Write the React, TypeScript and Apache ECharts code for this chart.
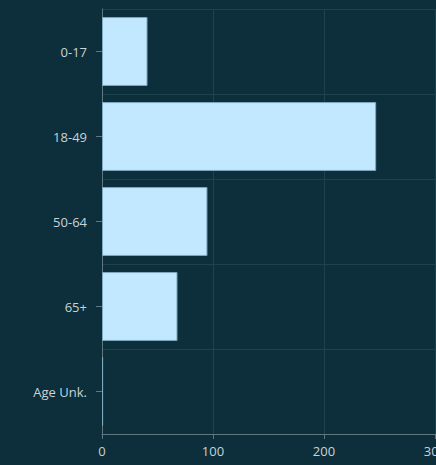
import React, { useEffect, useRef } from "react";
import * as echarts from "echarts";

const categories = ["0-17", "18-49", "50-64", "65+", "Age Unk."];
const values = [41, 247, 95, 68, 1];
const xTicks = [0, 100, 200, 300];

export default function App() {
  const ref = useRef<HTMLDivElement>(null);
  useEffect(() => {
    if (!ref.current) return;
    const chart = echarts.init(ref.current, undefined, { renderer: "svg" });
    chart.setOption({
      animation: false,
      backgroundColor: "#0c2f3b",
      textStyle: { fontFamily: "Open Sans" },
      grid: {
        left: 102,
        right: 1,
        top: 9,
        bottom: 31,
        containLabel: false,
        outerBoundsMode: "none",
      },
      xAxis: {
        type: "value",
        min: xTicks[0],
        max: xTicks[xTicks.length - 1],
        interval: 100,
        axisLine: { show: true, lineStyle: { color: "#5f7780", width: 1 } },
        axisTick: { show: true, length: 5, lineStyle: { color: "#5f7780" } },
        axisLabel: { color: "#c9d3d8", fontSize: 13, margin: 10 },
        splitLine: { show: true, lineStyle: { color: "#1f434e", width: 1 } },
      },
      yAxis: {
        type: "category",
        inverse: true,
        data: categories,
        axisLine: { show: true, lineStyle: { color: "#5f7780", width: 1 } },
        axisTick: { show: true, alignWithLabel: true, length: 6, lineStyle: { color: "#5f7780" } },
        axisLabel: { color: "#c9d3d8", fontSize: 13, margin: 15 },
        splitLine: { show: true, lineStyle: { color: "#1f434e", width: 1 } },
      },
      series: [
        {
          type: "bar",
          data: values,
          barCategoryGap: "19%",
          itemStyle: { color: "#c2e8ff", borderColor: "#7fa9be", borderWidth: 1 },
        },
      ],
    });
    return () => chart.dispose();
  }, []);
  return (
    <div
      ref={ref}
      style={{ position: "absolute", left: 0, top: 0, width: 436, height: 465 }}
    />
  );
}
